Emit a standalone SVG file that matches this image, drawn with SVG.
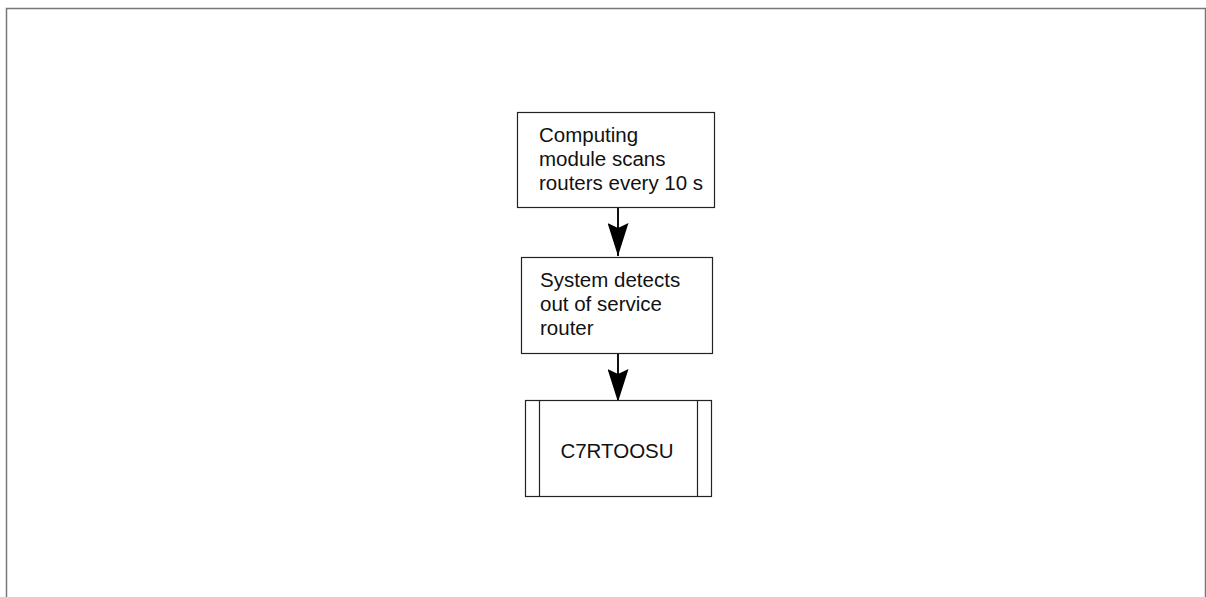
<svg xmlns="http://www.w3.org/2000/svg" width="1206" height="597" viewBox="0 0 1206 597">
<style>
.box{fill:#fff;stroke:#222;stroke-width:1.2}
.t{font-family:"Liberation Sans",Arial,sans-serif;font-size:20.5px;fill:#111}
.c{stroke:#111;stroke-width:2;fill:none}
</style>
<defs>
<marker id="ah" markerUnits="userSpaceOnUse" markerWidth="34" markerHeight="21" refX="33" refY="10.5" orient="auto" viewBox="0 0 34 21">
<path d="M0,0 L5,10.5 L0,21 L33,10.5 Z" fill="#000"/>
</marker>
</defs>
<rect width="1206" height="597" fill="#fff"/>
<path d="M6.5,600 V8.5 H1205.5 V600" fill="none" stroke="#777" stroke-width="1.5"/>
<g id="connectors">
<path class="c" d="M618,207 V256" marker-end="url(#ah)"/>
<path class="c" d="M618,353 V402" marker-end="url(#ah)"/>
</g>
<g id="n1">
<rect class="box" x="517.5" y="112.5" width="197" height="95"/>
<text class="t"><tspan x="539" y="142">Computing</tspan><tspan x="539" y="166">module scans</tspan><tspan x="539" y="190">routers every 10 s</tspan></text>
</g>
<g id="n2">
<rect class="box" x="521.5" y="257.5" width="191" height="96"/>
<text class="t"><tspan x="540" y="287">System detects</tspan><tspan x="540" y="311">out of service</tspan><tspan x="540" y="335">router</tspan></text>
</g>
<g id="n3">
<rect class="box" x="525.5" y="400.5" width="186" height="96"/>
<path d="M539.5,400.5 V496.5 M697.5,400.5 V496.5" stroke="#222" stroke-width="1.2"/>
<text class="t" x="617" y="458" text-anchor="middle">C7RTOOSU</text>
</g>
</svg>
